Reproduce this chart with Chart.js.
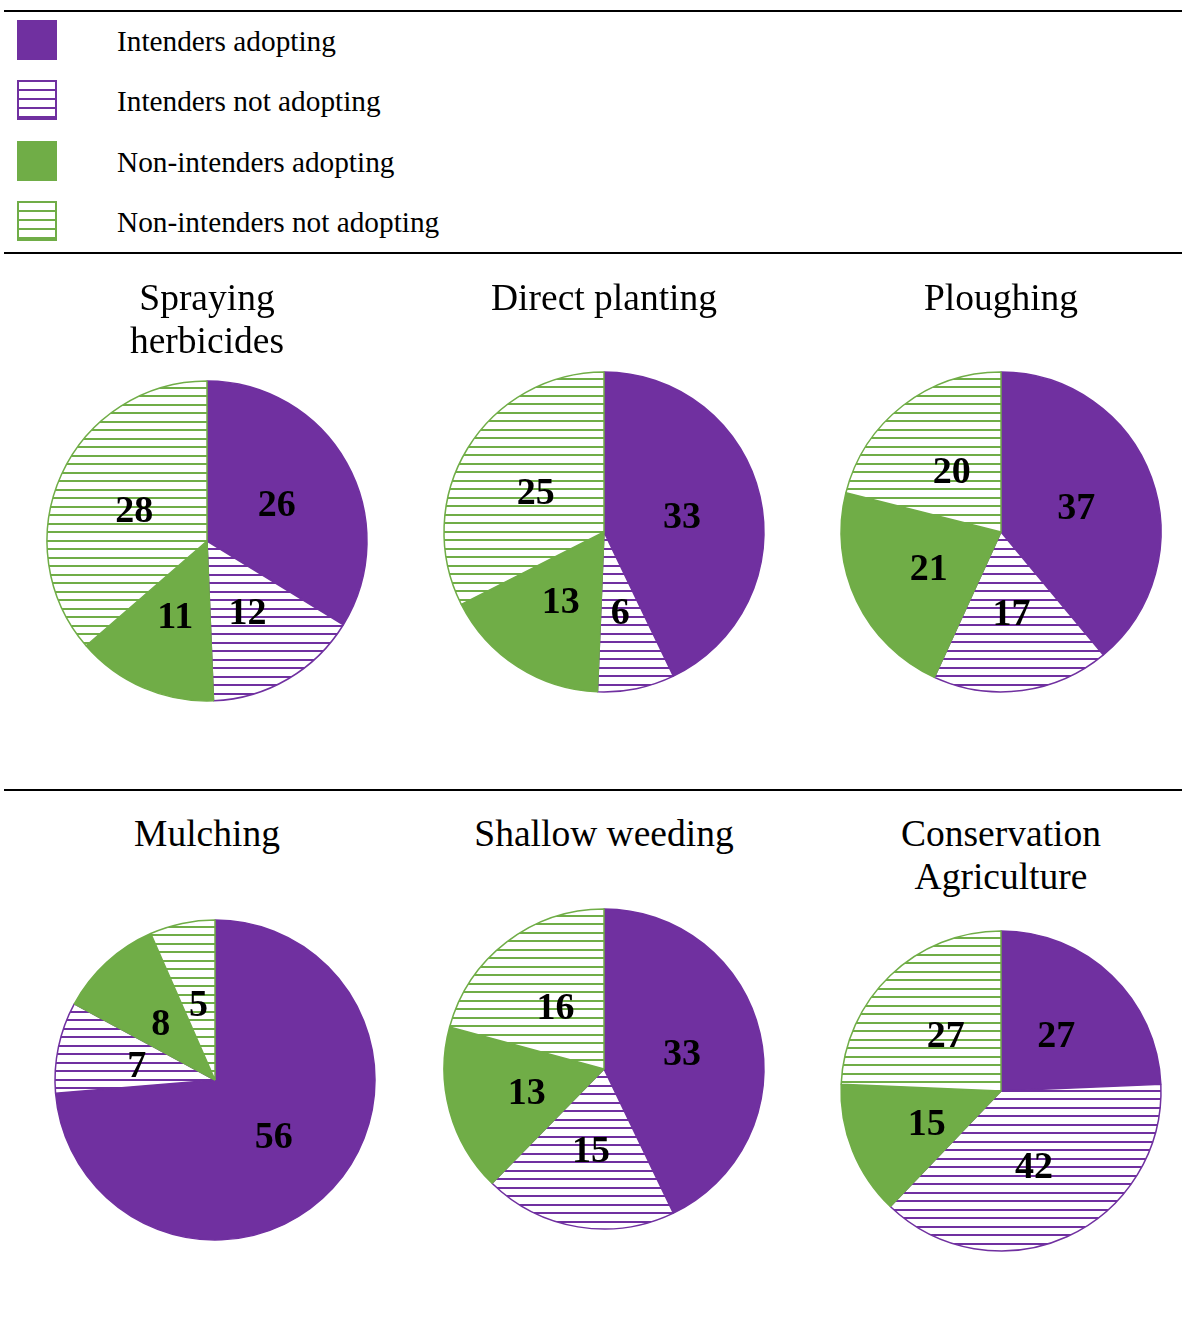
<!DOCTYPE html>
<html>
<head>
<meta charset="utf-8">
<script src="https://cdn.jsdelivr.net/npm/chart.js@4.4.1/dist/chart.umd.min.js"></script>
<style>
  body { margin: 0; background: #fff; font-family: "Liberation Serif", "Times New Roman", serif; }
  #page { position: relative; width: 1182px; height: 1320px; }
  .rule { position: absolute; left: 4px; width: 1178px; height: 2px; background: #000; }
  .swatch { position: absolute; left: 17px; width: 40px; height: 40px; box-sizing: border-box; }
  .legend-text { position: absolute; left: 117px; font-size: 29.3px; line-height: 40px; color: #000; white-space: nowrap; }
  .title { position: absolute; width: 400px; text-align: center; font-size: 37.5px; line-height: 43px; color: #000; }
  canvas.pie { position: absolute; }
</style>
</head>
<body>
<div id="page"></div>
<script>
// legend categories and colours
const categories = ['Intenders adopting', 'Intenders not adopting', 'Non-intenders adopting', 'Non-intenders not adopting'];
const purple = '#7030A0';
const green = '#70AD47';

// one pie per practice, values in category order
const practices = ['Spraying\nherbicides', 'Direct planting', 'Ploughing', 'Mulching', 'Shallow weeding', 'Conservation\nAgriculture'];
const sprayingHerbicides = [26, 12, 11, 28];
const directPlanting = [33, 6, 13, 25];
const ploughing = [37, 17, 21, 20];
const mulching = [56, 7, 8, 5];
const shallowWeeding = [33, 15, 13, 16];
const conservationAgriculture = [27, 42, 15, 27];
const practiceValues = [sprayingHerbicides, directPlanting, ploughing, mulching, shallowWeeding, conservationAgriculture];

// layout: pie centres and title tops
const pieCentres = [[207, 541], [604, 532], [1001, 532], [215, 1080], [604, 1069], [1001, 1091]];
const titleTops = [[207, 276], [604, 276], [1001, 276], [207, 812], [604, 812], [1001, 812]];

const page = document.getElementById('page');

// horizontal striped fill, stripes roughly every 8.5px
function hatch(color) {
  const c = document.createElement('canvas');
  c.width = 8; c.height = 17;
  const g = c.getContext('2d');
  g.fillStyle = '#fff';
  g.fillRect(0, 0, 8, 17);
  g.fillStyle = color;
  g.fillRect(0, 0, 8, 2);
  g.fillRect(0, 9, 8, 2);
  return g.createPattern(c, 'repeat');
}

const fills = [purple, hatch(purple), green, hatch(green)];
const borders = [purple, purple, green, green];

// rules
[10, 252, 789].forEach(y => {
  const r = document.createElement('div');
  r.className = 'rule';
  r.style.top = y + 'px';
  page.appendChild(r);
});

// legend
const legendTops = [20, 80, 141, 201];
categories.forEach((name, i) => {
  const sw = document.createElement('div');
  sw.className = 'swatch';
  sw.style.top = legendTops[i] + 'px';
  const col = borders[i];
  if (i % 2 === 0) {
    sw.style.background = col;
  } else {
    sw.style.border = '2px solid ' + col;
    sw.style.background = `repeating-linear-gradient(to bottom, #fff 0px, #fff 7px, ${col} 7px, ${col} 9px)`;
  }
  page.appendChild(sw);
  const t = document.createElement('div');
  t.className = 'legend-text';
  t.style.top = (legendTops[i] + 1) + 'px';
  t.textContent = name;
  page.appendChild(t);
});

// value labels inside the slices
const sliceLabels = {
  id: 'sliceLabels',
  afterDatasetsDraw(chart) {
    const ctx = chart.ctx;
    const data = chart.data.datasets[0].data;
    ctx.save();
    ctx.font = 'bold 38px "Liberation Serif", serif';
    ctx.fillStyle = '#000';
    ctx.textAlign = 'center';
    ctx.textBaseline = 'middle';
    chart.getDatasetMeta(0).data.forEach((arc, i) => {
      const p = arc.getProps(['x', 'y', 'startAngle', 'endAngle', 'outerRadius'], true);
      const mid = (p.startAngle + p.endAngle) / 2;
      const r = p.outerRadius * 0.5;
      ctx.fillText(String(data[i]), p.x + Math.cos(mid) * r, p.y + Math.sin(mid) * r + 4);
    });
    ctx.restore();
  }
};

practices.forEach((title, k) => {
  const [cx, cy] = pieCentres[k];
  const cv = document.createElement('canvas');
  cv.className = 'pie';
  cv.width = 360; cv.height = 360;
  cv.style.left = (cx - 180) + 'px';
  cv.style.top = (cy - 180) + 'px';
  page.appendChild(cv);

  const tt = document.createElement('div');
  tt.className = 'title';
  tt.style.left = (titleTops[k][0] - 200) + 'px';
  tt.style.top = titleTops[k][1] + 'px';
  tt.innerHTML = title.replace('\n', '<br>');
  page.appendChild(tt);

  new Chart(cv, {
    type: 'pie',
    data: {
      labels: categories,
      datasets: [{
        data: practiceValues[k],
        backgroundColor: fills,
        borderColor: borders,
        borderWidth: 1.5,
        hoverOffset: 0
      }]
    },
    options: {
      responsive: false,
      animation: false,
      radius: 160,
      layout: { padding: 0 },
      plugins: { legend: { display: false }, tooltip: { enabled: false } },
      events: []
    },
    plugins: [sliceLabels]
  });
});
</script>
</body>
</html>
